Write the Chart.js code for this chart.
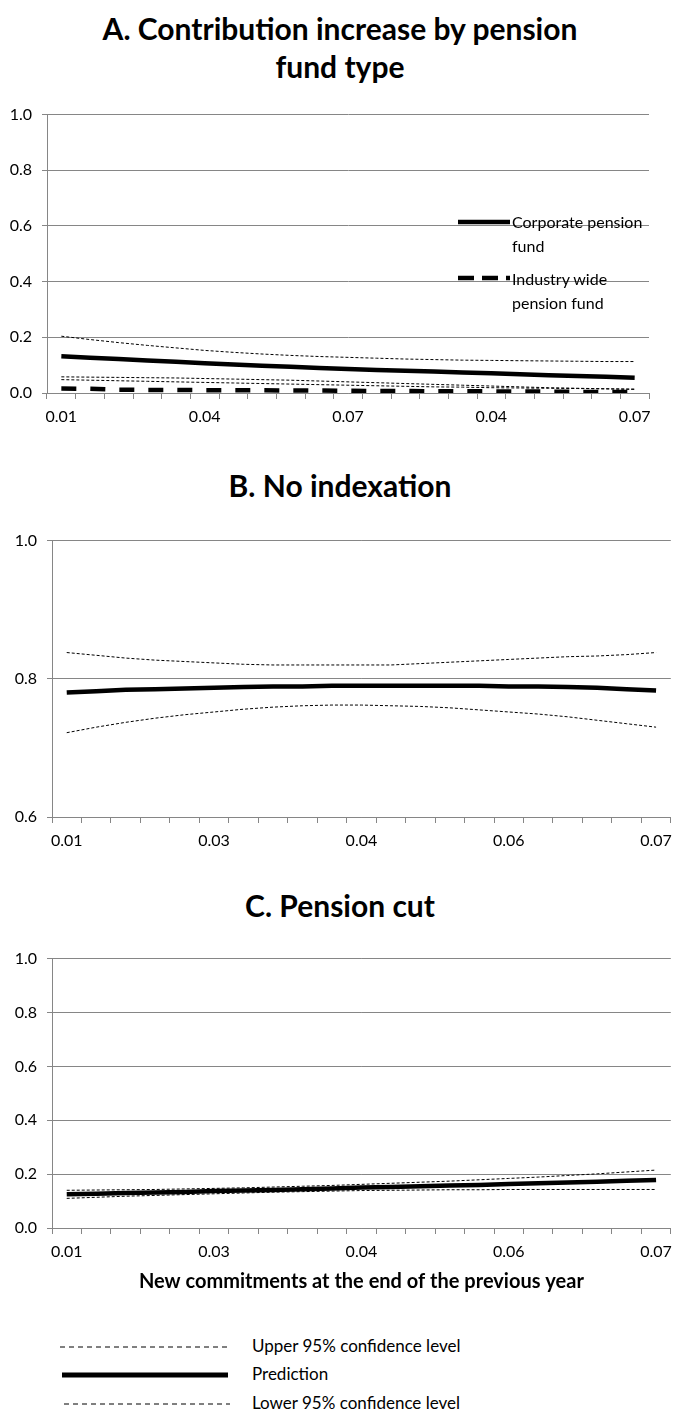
<!DOCTYPE html>
<html>
<head>
<meta charset="utf-8">
<script src="https://cdn.jsdelivr.net/npm/chart.js@4/dist/chart.umd.min.js"></script>
<style>
    body { margin: 0; background: #fff; font-family: Lato, "Open Sans", sans-serif; }
    #page { position: relative; width: 680px; height: 1416px; overflow: hidden; }
    .box { position: absolute; left: 0; width: 680px; }
    .titulo { position: absolute; left: 0; width: 680px; text-align: center; font-weight: bold; font-size: 30px; color: #000; line-height: 38px; }
    .ley { position: absolute; font-size: 16px; color: #000; line-height: 24px; white-space: nowrap; }
    svg { position: absolute; overflow: visible; }
</style>
</head>
<body>
<div id="page">
    <div class="titulo" style="top: 9px;">A. Contribution increase by pension<br>fund type</div>
    <div class="box" style="top: 95px; height: 338px;"><canvas id="chartA"></canvas></div>

    <svg style="left: 458px; top: 222px;" width="52" height="2"><line x1="0" y1="0" x2="52" y2="0" stroke="#000" stroke-width="4.5"/></svg>
    <div class="ley" style="left: 512px; top: 210px;">Corporate pension<br>fund</div>
    <svg style="left: 458px; top: 278px;" width="52" height="2"><line x1="0" y1="0" x2="52" y2="0" stroke="#000" stroke-width="4.5" stroke-dasharray="16 8"/></svg>
    <div class="ley" style="left: 512px; top: 267px;">Industry wide<br>pension fund</div>

    <div class="titulo" style="top: 466px;">B. No indexation</div>
    <div class="box" style="top: 521px; height: 336px;"><canvas id="chartB"></canvas></div>

    <div class="titulo" style="top: 886px;">C. Pension cut</div>
    <div class="box" style="top: 939px; height: 359px;"><canvas id="chartC"></canvas></div>

    <svg style="left: 60px; top: 1347px;" width="168" height="2"><line x1="0" y1="0" x2="168" y2="0" stroke="#000" stroke-width="1" stroke-dasharray="5 4"/></svg>
    <div class="ley" style="left: 252px; top: 1334px; font-size: 17px;">Upper 95% confidence level</div>
    <svg style="left: 62px; top: 1375px;" width="166" height="2"><line x1="0" y1="0" x2="166" y2="0" stroke="#000" stroke-width="5"/></svg>
    <div class="ley" style="left: 252px; top: 1362px; font-size: 17px;">Prediction</div>
    <svg style="left: 64px; top: 1404px;" width="166" height="2"><line x1="0" y1="0" x2="166" y2="0" stroke="#000" stroke-width="1" stroke-dasharray="5 4"/></svg>
    <div class="ley" style="left: 252px; top: 1391px; font-size: 17px;">Lower 95% confidence level</div>
</div>

<script>
// etiquetas del eje x (una cada 5 categorias, 21 categorias por panel)
var ticksA = ['0.01', '0.04', '0.07', '0.04', '0.07'];
var ticksB = ['0.01', '0.03', '0.04', '0.06', '0.07'];
var ticksC = ['0.01', '0.03', '0.04', '0.06', '0.07'];
var numCategorias = 21;

// Panel A
var corpPred  = [0.132, 0.127, 0.122, 0.117, 0.112, 0.107, 0.102, 0.098, 0.094, 0.090, 0.086, 0.083, 0.080, 0.077, 0.074, 0.071, 0.067, 0.064, 0.061, 0.058, 0.055];
var corpUpper = [0.204, 0.192, 0.181, 0.171, 0.162, 0.153, 0.146, 0.140, 0.135, 0.131, 0.128, 0.125, 0.122, 0.120, 0.118, 0.117, 0.116, 0.115, 0.114, 0.113, 0.113];
var corpLower = [0.058, 0.057, 0.056, 0.055, 0.054, 0.052, 0.050, 0.048, 0.046, 0.043, 0.040, 0.037, 0.034, 0.031, 0.028, 0.025, 0.022, 0.019, 0.017, 0.015, 0.013];
var indUpper  = [0.048, 0.046, 0.044, 0.042, 0.040, 0.038, 0.036, 0.034, 0.032, 0.030, 0.028, 0.026, 0.024, 0.022, 0.021, 0.019, 0.018, 0.017, 0.016, 0.015, 0.014];
var indPred   = [0.016, 0.015, 0.012, 0.011, 0.011, 0.010, 0.010, 0.010, 0.009, 0.009, 0.008, 0.007, 0.007, 0.006, 0.006, 0.006, 0.005, 0.005, 0.004, 0.004, 0.004];

// Panel B
var noIndUpper = [0.838, 0.834, 0.830, 0.827, 0.825, 0.823, 0.821, 0.820, 0.820, 0.820, 0.820, 0.820, 0.822, 0.824, 0.826, 0.828, 0.830, 0.832, 0.833, 0.835, 0.838];
var noIndPred  = [0.780, 0.782, 0.784, 0.785, 0.786, 0.787, 0.788, 0.789, 0.789, 0.790, 0.790, 0.790, 0.790, 0.790, 0.790, 0.789, 0.789, 0.788, 0.787, 0.785, 0.783];
var noIndLower = [0.722, 0.730, 0.737, 0.743, 0.748, 0.752, 0.756, 0.759, 0.761, 0.762, 0.762, 0.761, 0.760, 0.758, 0.755, 0.752, 0.749, 0.745, 0.740, 0.735, 0.730];

// Panel C
var cutUpper = [0.140, 0.141, 0.142, 0.143, 0.145, 0.147, 0.149, 0.152, 0.155, 0.158, 0.162, 0.166, 0.170, 0.174, 0.179, 0.184, 0.189, 0.195, 0.201, 0.208, 0.215];
var cutPred  = [0.125, 0.127, 0.130, 0.132, 0.134, 0.137, 0.139, 0.141, 0.144, 0.147, 0.150, 0.152, 0.155, 0.158, 0.160, 0.163, 0.166, 0.169, 0.172, 0.175, 0.178];
var cutLower = [0.110, 0.114, 0.118, 0.121, 0.124, 0.127, 0.130, 0.133, 0.135, 0.137, 0.139, 0.140, 0.141, 0.142, 0.142, 0.143, 0.143, 0.143, 0.143, 0.143, 0.143];

var gris = '#868686';
var fuente = 'Lato, "Open Sans", sans-serif';

function armarEtiquetas(ticks) {
    var labels = [];
    for (var i = 0; i < numCategorias; i++) {
        labels.push(i % 5 === 0 ? ticks[i / 5] : '');
    }
    return labels;
}

function serie(datos, grosor, guion) {
    return {
        data: datos,
        borderColor: '#000',
        borderWidth: grosor,
        borderDash: guion,
        pointRadius: 0,
        tension: 0,
        fill: false
    };
}

function crearGrafico(id, ticks, datasets, minY, maxY, anchoEjeY, alturaEjeX, derecha, tituloX) {
    var ctx = document.getElementById(id);
    new Chart(ctx, {
        type: 'line',
        data: {
            labels: armarEtiquetas(ticks),
            datasets: datasets
        },
        options: {
            responsive: true,
            maintainAspectRatio: false,
            animation: false,
            layout: { padding: { top: 10, left: 0, right: derecha, bottom: 0 } },
            plugins: {
                legend: { display: false },
                tooltip: { enabled: false }
            },
            scales: {
                x: {
                    offset: true,
                    grid: {
                        offset: true,
                        drawOnChartArea: false,
                        drawTicks: true,
                        tickLength: 6,
                        color: gris
                    },
                    border: { color: gris, width: 1 },
                    ticks: {
                        autoSkip: false,
                        maxRotation: 0,
                        padding: 8,
                        color: '#000',
                        font: { family: fuente, size: 16 }
                    },
                    title: {
                        display: !!tituloX,
                        text: tituloX || '',
                        color: '#000',
                        font: { family: fuente, size: 20, weight: 'bold' },
                        padding: { top: 3 }
                    },
                    afterFit: function (s) { s.height = alturaEjeX; }
                },
                y: {
                    min: minY,
                    max: maxY,
                    grid: {
                        color: gris,
                        drawTicks: true,
                        tickLength: 5
                    },
                    border: { color: gris, width: 1 },
                    ticks: {
                        stepSize: 0.2,
                        padding: 10,
                        color: '#000',
                        font: { family: fuente, size: 16 },
                        callback: function (v) { return v.toFixed(1); }
                    },
                    afterFit: function (s) { s.width = anchoEjeY; }
                }
            }
        }
    });
}

crearGrafico('chartA', ticksA, [
    serie(corpUpper, 1, [3, 2]),
    serie(corpLower, 1, [3, 2]),
    serie(indUpper, 1, [3, 2]),
    serie(corpPred, 4.5, []),
    serie(indPred, 4.5, [15, 14])
], 0, 1, 47, 40, 31, null);

crearGrafico('chartB', ticksB, [
    serie(noIndUpper, 1, [3, 2]),
    serie(noIndLower, 1, [3, 2]),
    serie(noIndPred, 4.5, [])
], 0.6, 1, 52, 40, 5, null);

crearGrafico('chartC', ticksC, [
    serie(cutUpper, 1, [3, 2]),
    serie(cutLower, 1, [3, 2]),
    serie(cutPred, 4.5, [])
], 0, 1, 52, 70, 5, 'New commitments at the end of the previous year');
</script>
</body>
</html>
